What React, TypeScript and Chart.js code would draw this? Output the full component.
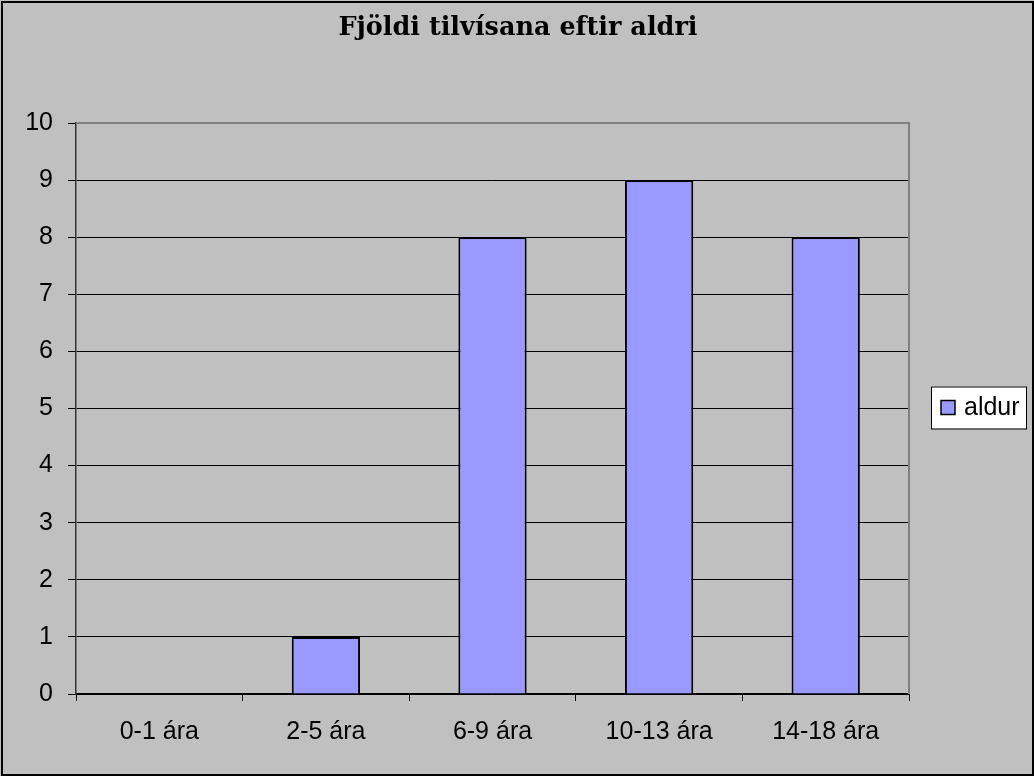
import React, { useEffect, useRef } from "react";
import { Chart, registerables } from "chart.js";

Chart.register(...registerables);

const TITLE = "Fjöldi tilvísana eftir aldri";
const SERIES_LABEL = "aldur";
const CATEGORIES = ["0-1 ára", "2-5 ára", "6-9 ára", "10-13 ára", "14-18 ára"];
const VALUES = [0, 1, 8, 9, 8];
const Y_MIN = 0;
const Y_MAX = 10;
const Y_STEP = 1;

const W = 1034;
const H = 776;
const SANS = "'Liberation Sans', Arial, sans-serif";
const BAR_FILL = "#9999FF";
const BG = "#C0C0C0";

const chromePlugin = {
  id: "excelChrome",
  beforeDraw(chart: any) {
    const ctx = chart.ctx;
    ctx.save();
    ctx.fillStyle = BG;
    ctx.fillRect(0, 0, W, H);
    ctx.strokeStyle = "#000";
    ctx.lineWidth = 2;
    ctx.strokeRect(2, 2, W - 3, H - 3);
    // title
    ctx.fillStyle = "#000";
    ctx.font = "bold 25.5px 'DejaVu Serif', serif";
    ctx.textAlign = "center";
    ctx.textBaseline = "alphabetic";
    ctx.fillText(TITLE, W / 2 + 1, 35);
    ctx.restore();
  },
  beforeDatasetsDraw(chart: any) {
    const { ctx, chartArea } = chart;
    ctx.save();
    ctx.strokeStyle = "#808080";
    ctx.lineWidth = 2;
    ctx.beginPath();
    ctx.moveTo(chartArea.left, chartArea.top);
    ctx.lineTo(chartArea.right, chartArea.top);
    ctx.lineTo(chartArea.right, chartArea.bottom);
    ctx.stroke();
    ctx.restore();
  },
  afterDraw(chart: any) {
    const { ctx, chartArea } = chart;
    const label = chart.data.datasets[0].label;
    const cy = (chartArea.top + chartArea.bottom) / 2 - 1;
    const bx = 931;
    const bw = 95;
    const bh = 42;
    ctx.save();
    ctx.fillStyle = "#fff";
    ctx.fillRect(bx, cy - bh / 2, bw, bh);
    ctx.strokeStyle = "#000";
    ctx.lineWidth = 1;
    ctx.strokeRect(bx + 0.5, cy - bh / 2 + 0.5, bw, bh);
    ctx.fillStyle = BAR_FILL;
    ctx.fillRect(941, cy - 7, 14, 14);
    ctx.lineWidth = 1.5;
    ctx.strokeRect(941, cy - 7, 14, 14);
    ctx.fillStyle = "#000";
    ctx.font = `25px ${SANS}`;
    ctx.textAlign = "left";
    ctx.textBaseline = "middle";
    ctx.fillText(label, 964, cy + 1);
    ctx.restore();
  },
};

export default function App() {
  const ref = useRef<HTMLCanvasElement>(null);
  useEffect(() => {
    document.body.style.margin = "0";
    const canvas = ref.current!;
    const chart = new Chart(canvas, {
      type: "bar",
      data: {
        labels: CATEGORIES,
        datasets: [
          {
            label: SERIES_LABEL,
            data: VALUES,
            backgroundColor: BAR_FILL,
            borderColor: "#000",
            borderWidth: 2,
            categoryPercentage: 1,
            barPercentage: 0.41,
          },
        ],
      },
      options: {
        responsive: false,
        animation: false,
        devicePixelRatio: 1,
        layout: { padding: { top: 123, right: 125, left: 0, bottom: 0 } },
        plugins: {
          legend: { display: false },
          title: { display: false },
          tooltip: { enabled: false },
        },
        scales: {
          x: {
            afterFit(scale: any) {
              scale.height = 82;
            },
            grid: {
              offset: true,
              drawOnChartArea: false,
              drawTicks: true,
              tickLength: 7,
              color: "#000",
              lineWidth: 1,
            },
            border: { color: "#000", width: 1.5 },
            ticks: {
              color: "#000",
              font: { family: SANS, size: 25 },
              padding: 16,
              maxRotation: 0,
            },
          },
          y: {
            min: Y_MIN,
            max: Y_MAX,
            afterFit(scale: any) {
              scale.width = 76;
            },
            grid: {
              color: "#000",
              lineWidth: 1,
              tickLength: 8,
              drawTicks: true,
            },
            border: { color: "#333", width: 1.5 },
            ticks: {
              stepSize: Y_STEP,
              color: "#000",
              font: { family: SANS, size: 25 },
              padding: 15,
            },
          },
        },
      },
      plugins: [chromePlugin],
    });
    return () => chart.destroy();
  }, []);
  return (
    <div style={{ position: "absolute", left: 0, top: 0 }}>
      <canvas ref={ref} width={W} height={H} style={{ display: "block" }} />
    </div>
  );
}
